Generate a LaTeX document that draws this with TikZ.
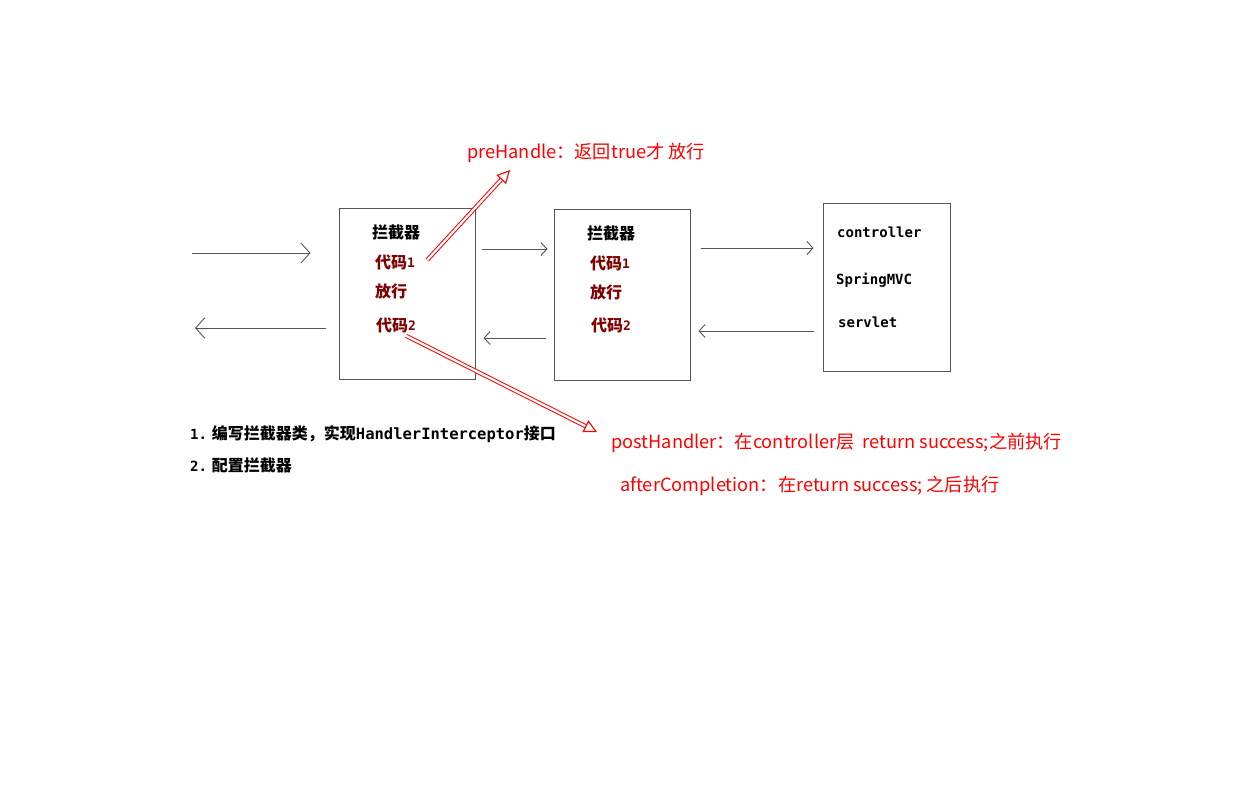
\documentclass[tikz,border=0pt]{standalone}
\usepackage{fontspec}
\setmainfont{Noto Sans CJK SC}
\newfontfamily\cjk{Noto Sans CJK SC}
\newfontfamily\mono{DejaVu Sans Mono}
\usetikzlibrary{arrows.meta,calc}
\definecolor{darkred}{RGB}{128,0,0}
\definecolor{linegray}{RGB}{85,85,85}
\tikzset{
  box/.style={draw=linegray,line width=1pt,rectangle,inner sep=0pt},
  lab/.style={font=\cjk\bfseries\fontsize{16}{16}\selectfont,text=black,inner sep=0pt,anchor=west},
  code/.style={font=\cjk\bfseries\fontsize{16}{16}\selectfont,text=darkred,inner sep=0pt,anchor=west},
  monolab/.style={font=\mono\bfseries\fontsize{14}{14}\selectfont,text=black,inner sep=0pt,anchor=west},
  redlab/.style={font=\cjk\fontsize{18.2}{18.2}\selectfont,text=red,inner sep=0pt,anchor=west},
  note/.style={font=\cjk\bfseries\fontsize{16}{16}\selectfont,text=black,inner sep=0pt,anchor=west},
  arrbig/.style={draw=linegray,line width=0.9pt,-{Straight Barb[length=9pt,width=20pt,line width=0.9pt]}},
  arrsmall/.style={draw=linegray,line width=0.9pt,-{Straight Barb[length=6pt,width=13pt,line width=0.9pt]}},
  redarr/.style={draw=red,line width=1pt,double=white,double distance=2.2pt,-{Triangle[open,length=13pt,width=13pt,line width=1.1pt]}},
}
\begin{document}
\begin{tikzpicture}[x=1pt,y=-1pt]
\useasboundingbox[fill=white] (0,0) rectangle (1252,788);
% boxes
\node[box,minimum width=136pt,minimum height=171pt] (b1) at (407,293.5) {};
\node[box,minimum width=136pt,minimum height=171pt] (b2) at (622,294.5) {};
\node[box,minimum width=127pt,minimum height=168pt] (b3) at (886.5,287) {};
% box 1 texts
\node[lab]  (b1t) at (372,232) {拦截器};
\node[code] (b1c1) at (375,262) {代码{\mono\bfseries\fontsize{13}{13}\selectfont\raisebox{1pt}{1}}};
\node[code] (b1p) at (375,291) {放行};
\node[code] (b1c2) at (376,325) {代码{\mono\bfseries\fontsize{13}{13}\selectfont\raisebox{1pt}{2}}};
% box 2 texts
\node[lab]  (b2t) at (587,233) {拦截器};
\node[code] (b2c1) at (590,263) {代码{\mono\bfseries\fontsize{13}{13}\selectfont\raisebox{1pt}{1}}};
\node[code] (b2p) at (590,292) {放行};
\node[code] (b2c2) at (591,325) {代码{\mono\bfseries\fontsize{13}{13}\selectfont\raisebox{1pt}{2}}};
% box 3 texts
\node[monolab] (b3a) at (837,232) {controller};
\node[monolab] (b3b) at (836,280) {SpringMVC};
\node[monolab] (b3c) at (838,322) {servlet};
% free ends
\coordinate (inS) at (192,253);
\coordinate (outE) at (195,328);
% black arrows
\draw[arrbig] (inS) -- ($(b1.west|-inS)+(-28,0)$);
\draw[arrbig] ($(b1.west|-outE)+(-13,0)$) -- (outE);
\draw[arrsmall] ($(b1.east)+(6,-44.5)$) -- ($(b2.west)+(-6,-45.5)$);
\draw[arrsmall] ($(b2.west)+(-8,43.5)$) -- ($(b1.east)+(8,44.5)$);
\draw[arrsmall] ($(b2.east)+(10,-46.5)$) -- ($(b3.west)+(-9,-39)$);
\draw[arrsmall] ($(b3.west)+(-9,44)$) -- ($(b2.east)+(8,36.5)$);
% red labels
\node[redlab] (pre) at (467,153) {preHandle：返回true才 放行};
\node[redlab] (post) at (611,443) {postHandler：在controller层\ \ return success;之前执行};
\node[redlab] (after) at (620,486) {afterCompletion：在return success; 之后执行};
\coordinate (preTip) at (510,170);
\coordinate (postTip) at (597,432);
\draw[redarr] ($(b1c1.east)+(12,-2)$) -- (preTip);
\draw[redarr] ($(b1c2.south)+(10,3)$) -- (postTip);
% notes
\node[note] (n1) at (190,434) {{\mono\bfseries\fontsize{14}{14}\selectfont 1.} 编写拦截器类，实现{\mono\bfseries\fontsize{15.5}{15.5}\selectfont HandlerInterceptor}接口};
\node[note] (n2) at (190,465) {{\mono\bfseries\fontsize{14}{14}\selectfont 2.} 配置拦截器};
\end{tikzpicture}
\end{document}
